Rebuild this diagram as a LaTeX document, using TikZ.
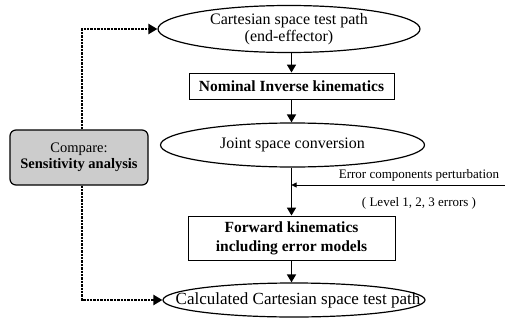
\documentclass[tikz,border=0pt]{standalone}
\usepackage{fontspec}
\setmainfont{Liberation Serif}
\usetikzlibrary{shapes.geometric,arrows.meta,positioning}
\begin{document}
\begin{tikzpicture}[x=1pt,y=-1pt,
  oval/.style={draw,ellipse,line width=1.2pt,inner sep=0pt,font=\fontsize{16}{16.5}\selectfont},
  stepbox/.style={draw,rectangle,line width=0.9pt,inner sep=0pt,align=center,font=\bfseries\fontsize{15.5}{19}\selectfont},
  flow/.style={line width=1.6pt,-{Triangle[length=8pt,width=9pt]}},
  loop/.style={line width=2.8pt,dash pattern=on 2.4pt off 1pt,-{Triangle[length=9pt,width=10pt]}},
  note/.style={font=\fontsize{13}{14}\selectfont,inner sep=0pt}]
\useasboundingbox (0,0) rectangle (505,329);
% main chain
\node[oval,minimum width=262pt,minimum height=47pt,align=center] (top) at (289,29)
  {Cartesian space test path\\(end-effector)};
\node[stepbox,minimum width=205pt,minimum height=26pt] (inv) at (291.5,86) {Nominal Inverse kinematics};
\node[oval,minimum width=264pt,minimum height=44pt] (joint) at (292.5,145) {Joint space conversion};
\node[stepbox,minimum width=207pt,minimum height=44pt] (fwd) at (291.5,238)
  {Forward kinematics\\including error models};
% the last label is wider than its oval and runs over the right edge
\node[oval,minimum width=262pt,minimum height=34pt] (bot) at (294,300) {};
\node[inner sep=0pt,font=\fontsize{17}{18}\selectfont] (botlbl) at (298,300)
  {Calculated Cartesian space test path};
% comparison box
\node[draw,rounded corners=6pt,line width=1.2pt,fill=gray!40,minimum width=138pt,minimum height=55pt,
  align=center,font=\fontsize{14.5}{16}\selectfont] (cmp) at (79,157.5) {Compare:\\\textbf{Sensitivity analysis}};
% arrows
\draw[flow] (top.south -| inv.north) -- (inv.north);
\draw[flow] (inv.south) -- (inv.south |- joint.north);
\draw[flow] (fwd.north |- joint.south) -- (fwd.north);
\draw[flow] (fwd.south) -- (fwd.south |- bot.north);
% error injection
\coordinate (errin) at (505,185);
\coordinate (merge) at (fwd.north |- errin);
\draw[line width=0.8pt,-{Triangle[length=5pt,width=5pt]}] (errin) -- (merge);
\node[note,anchor=south] (errlbl) at (419,181) {Error components perturbation};
\node[note] (lvl) at (419,203) {( Level 1, 2, 3 errors )};
% comparison loops
\draw[loop] (cmp.north -| 82,0) |- (top.west);
\draw[loop] (cmp.south -| 82,0) |- (bot.west);
\end{tikzpicture}
\end{document}
